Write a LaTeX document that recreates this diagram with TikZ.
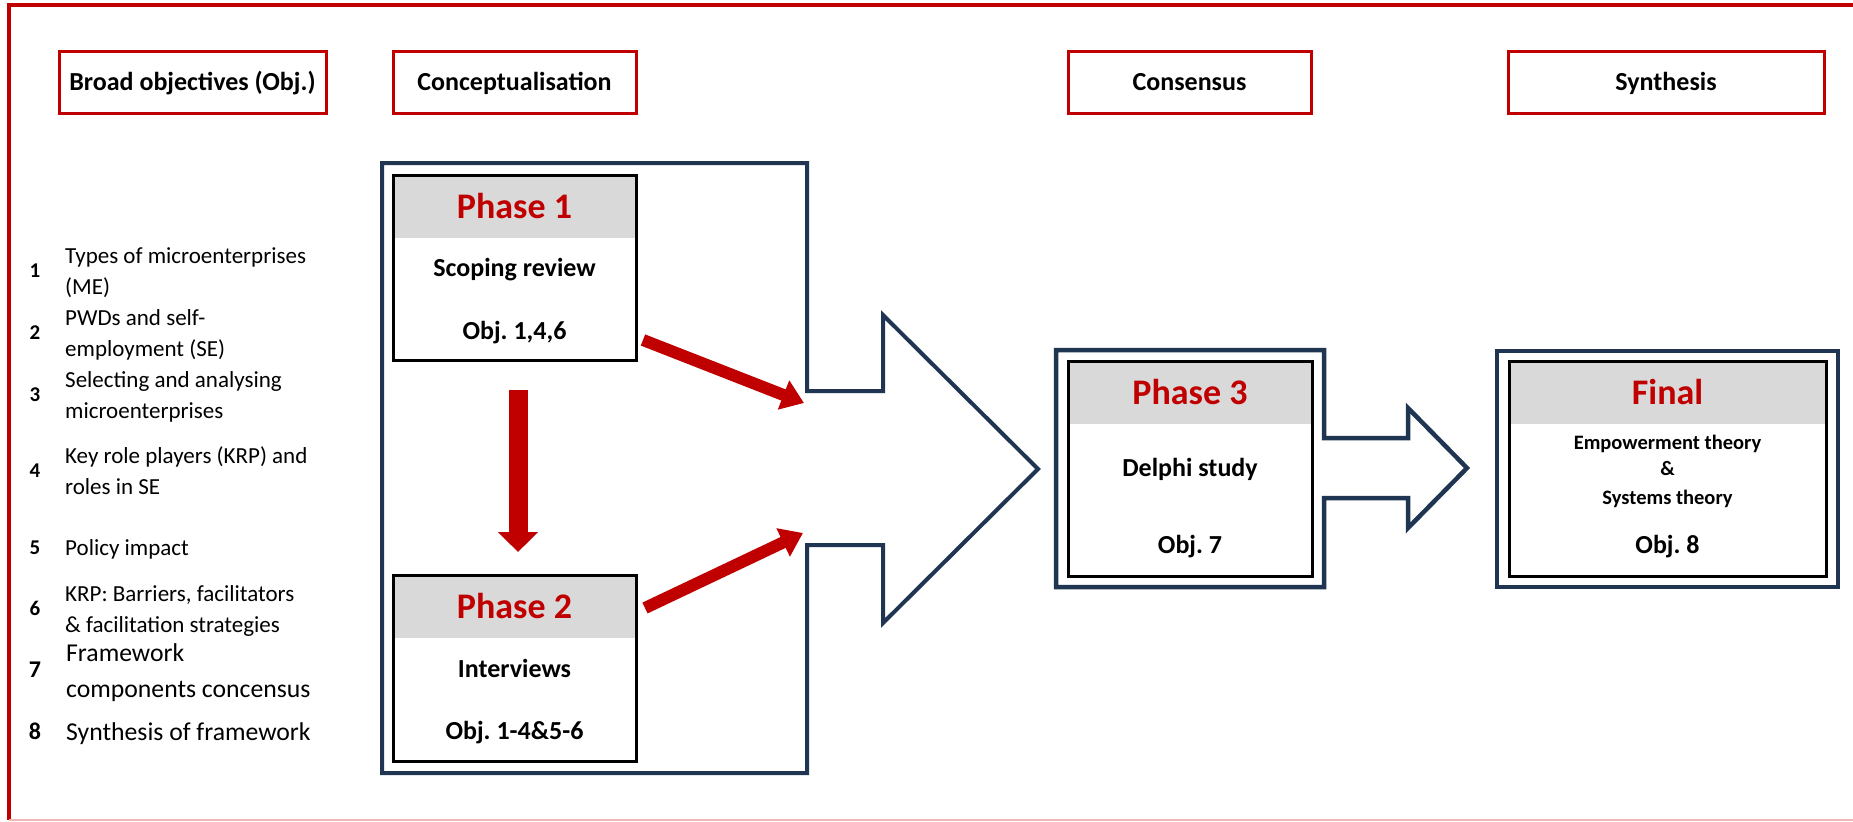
\documentclass[tikz,border=0pt]{standalone}
\usepackage{fontspec}
\setmainfont{Carlito}
\usetikzlibrary{arrows.meta,calc}
\definecolor{redc}{HTML}{C00000}
\definecolor{navy}{HTML}{1F3552}
\definecolor{hdrgray}{HTML}{D9D9D9}
\definecolor{pinkline}{HTML}{F2B8B8}
\frenchspacing
\begin{document}
\begin{tikzpicture}[x=1pt,y=-1pt,
  hbox/.style={draw=redc, line width=3pt, fill=white, inner sep=0pt, outer sep=0pt,
    font=\fontsize{26}{30}\selectfont\bfseries, minimum height=62pt, text height=19pt, text depth=2.5pt},
  pbox/.style={inner sep=0pt, outer sep=0pt, fill=white},
  phead/.style={fill=hdrgray, inner sep=0pt, outer sep=0pt, minimum height=63pt, text=redc,
    font=\fontsize{36}{40}\selectfont\bfseries, text height=24pt, text depth=1pt},
  pframe/.style={draw=black, line width=3pt},
  ptxt/.style={anchor=base, inner sep=0pt, font=\fontsize{26}{30}\selectfont\bfseries},
  stxt/.style={anchor=base, inner sep=0pt, font=\fontsize{20.5}{24}\selectfont\bfseries},
  itemtxt/.style={anchor=base west, align=left, inner sep=0pt, font=\fontsize{23}{31}\selectfont},
  itembig/.style={anchor=base west, align=left, inner sep=0pt, font=\fontsize{25.7}{36}\selectfont},
  numtxt/.style={anchor=base, inner sep=0pt, font=\fontsize{21}{25}\selectfont\bfseries},
  numbig/.style={anchor=base, inner sep=0pt, font=\fontsize{24}{30}\selectfont\bfseries},
  navyline/.style={draw=navy, line width=4pt, line join=miter},
  redarrow/.style={draw=redc, line width=12pt, -{Triangle[length=22pt,width=30pt]}},
  downarrow/.style={draw=redc, line width=19pt, -{Triangle[length=20pt,width=39pt]}}
]
\useasboundingbox (0,0) rectangle (1853,822);
\fill[white] (0,0) rectangle (1853,822);

% outer frame
\draw[redc, line width=4pt] (1853,5) -- (9,5) -- (9,820);
\draw[pinkline, line width=2pt] (9,820) -- (1853,820);

% column headers
\node[hbox, minimum width=267pt] (hbroad) at (192.5,82) {Broad objectives (Obj.)};
\node[hbox, minimum width=243pt] (hconc) at (514.5,82) {Conceptualisation};
\node[hbox, minimum width=243pt] (hcons) at (1189.5,82) {Consensus};
\node[hbox, minimum width=316pt] (hsyn) at (1666,82) {Synthesis};

% objectives list (base = baseline of the last line)
\node[numtxt] (n1) at (35,277) {1};
\node[itemtxt] (i1) at (65,294) {Types of microenterprises\\(ME)};
\node[numtxt] (n2) at (35,339) {2};
\node[itemtxt] (i2) at (65,356) {PWDs and self-\\employment (SE)};
\node[numtxt] (n3) at (35,401) {3};
\node[itemtxt] (i3) at (65,418) {Selecting and analysing\\microenterprises};
\node[numtxt] (n4) at (35,477) {4};
\node[itemtxt] (i4) at (65,494) {Key role players (KRP) and\\roles in SE};
\node[numtxt] (n5) at (35,554) {5};
\node[itemtxt] (i5) at (65,555) {Policy impact};
\node[numtxt] (n6) at (35,615) {6};
\node[itemtxt] (i6) at (65,632) {KRP: Barriers, facilitators\\\& facilitation strategies};
\node[numbig] (n7) at (35,677) {7};
\node[itembig] (i7) at (66,697) {Framework\\components concensus};
\node[numbig] (n8) at (35,739) {8};
\node[itembig] (i8) at (66,740) {Synthesis of framework};

% big conceptualisation container with arrow
\draw[navyline] (382,163) -- (807,163) -- (807,391) -- (883,391) -- (883,315) -- (1038,469)
  -- (883,623) -- (883,545) -- (807,545) -- (807,773) -- (382,773) -- cycle;

% Phase 1
\node[pbox, minimum width=243pt, minimum height=185pt] (p1) at (514.5,267.5) {};
\node[phead, minimum width=243pt, anchor=north] (p1h) at (p1.north) {Phase 1};
\draw[pframe] (p1.north west) rectangle (p1.south east);
\node[ptxt] (p1a) at (514.5,276) {Scoping review};
\node[ptxt] (p1b) at (514.5,339) {Obj. 1,4,6};

% Phase 2
\node[pbox, minimum width=243pt, minimum height=186pt] (p2) at (514.5,668) {};
\node[phead, minimum width=243pt, anchor=north] (p2h) at (p2.north) {Phase 2};
\draw[pframe] (p2.north west) rectangle (p2.south east);
\node[ptxt] (p2a) at (514.5,677) {Interviews};
\node[ptxt] (p2b) at (514.5,739) {Obj. 1-4\&5-6};

% red arrows
\draw[downarrow, shorten <=30pt, shorten >=23pt] ([xshift=3.5pt]p1.south) -- ([xshift=3.5pt]p2.north);
\coordinate (a1s) at (643,340);
\coordinate (a1e) at (804,403);
\coordinate (a2s) at (645,608);
\coordinate (a2e) at (803,533);
\draw[redarrow] (a1s) -- (a1e);
\draw[redarrow] (a2s) -- (a2e);

% Phase 3 callout
\draw[navyline, line width=4.5pt] (1056,350) -- (1324,350) -- (1324,438) -- (1408,438) -- (1408,408)
  -- (1467,468) -- (1408,528) -- (1408,498) -- (1324,498) -- (1324,587) -- (1056,587) -- cycle;
\node[pbox, minimum width=244pt, minimum height=215pt] (p3) at (1190,468.5) {};
\node[phead, minimum width=244pt, anchor=north] (p3h) at (p3.north) {Phase 3};
\draw[pframe] (p3.north west) rectangle (p3.south east);
\node[ptxt] (p3a) at (1190,476) {Delphi study};
\node[ptxt] (p3b) at (1190,553) {Obj. 7};

% Final
\draw[navyline, line width=4.5pt] (1497,351) rectangle (1838,587);
\node[pbox, minimum width=317pt, minimum height=215pt] (fin) at (1667.5,468.5) {};
\node[phead, minimum width=317pt, anchor=north] (finh) at (fin.north) {Final};
\draw[pframe] (fin.north west) rectangle (fin.south east);
\node[stxt] (fa) at (1667.5,449) {Empowerment theory};
\node[stxt] (fb) at (1667.5,475) {\&};
\node[stxt] (fc) at (1667.5,504) {Systems theory};
\node[ptxt] (fd) at (1667.5,553) {Obj. 8};
\end{tikzpicture}
\end{document}
